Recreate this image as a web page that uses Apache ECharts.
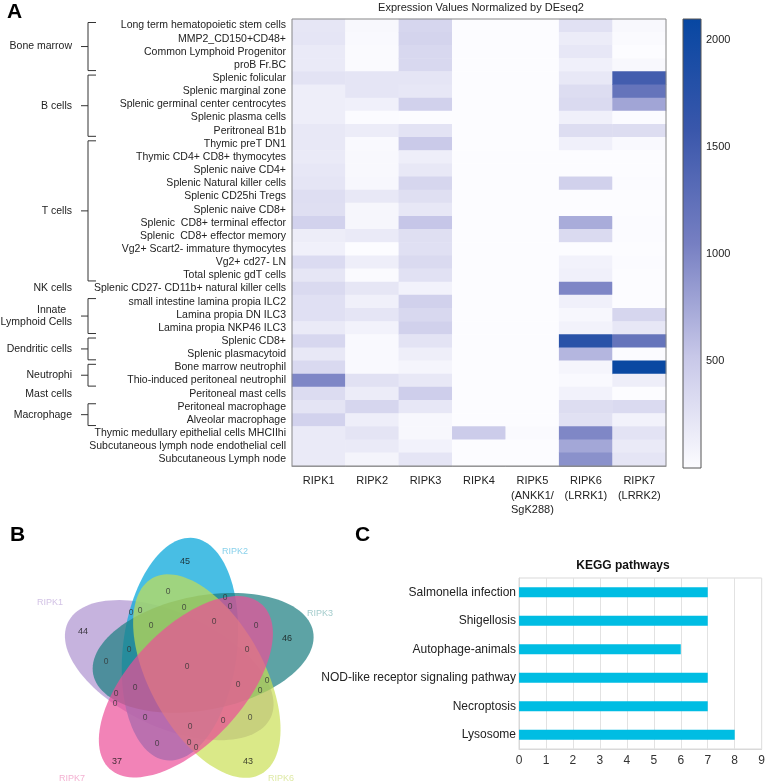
<!DOCTYPE html>
<html><head><meta charset="utf-8">
<script src="https://cdn.jsdelivr.net/npm/echarts@6/dist/echarts.min.js"></script>
<style>html,body{margin:0;padding:0;background:#fff}#c{width:768px;height:784px}</style>
</head><body><div id="c"></div>
<script>
// ---------- DATA ----------
const cellTypes = [
  'Long term hematopoietic stem cells','MMP2_CD150+CD48+','Common Lymphoid Progenitor','proB Fr.BC',
  'Splenic folicular','Splenic marginal zone','Splenic germinal center centrocytes','Splenic plasma cells','Peritroneal B1b',
  'Thymic preT DN1','Thymic CD4+ CD8+ thymocytes','Splenic naive CD4+','Splenic Natural killer cells','Splenic CD25hi Tregs',
  'Splenic naive CD8+','Splenic  CD8+ terminal effector','Splenic  CD8+ effector memory','Vg2+ Scart2- immature thymocytes',
  'Vg2+ cd27- LN','Total splenic gdT cells','Splenic CD27- CD11b+ natural killer cells','small intestine lamina propia ILC2',
  'Lamina propia DN ILC3','Lamina propia NKP46 ILC3','Splenic CD8+','Splenic plasmacytoid','Bone marrow neutrophil',
  'Thio-induced peritoneal neutrophil','Peritoneal mast cells','Peritoneal macrophage','Alveolar macrophage',
  'Thymic medullary epithelial cells MHCIIhi','Subcutaneous lymph node endothelial cell','Subcutaneous Lymph node'
];
const genes = ['RIPK1','RIPK2','RIPK3','RIPK4','RIPK5\n(ANKK1/\nSgK288)','RIPK6\n(LRRK1)','RIPK7\n(LRRK2)'];
const ripk1 = [220,230,180,180,250,140,140,140,200,200,180,210,230,300,290,420,150,120,330,220,340,280,280,180,370,200,350,1000,320,240,420,180,180,180];
const ripk2 = [40,30,20,20,230,230,120,10,160,30,40,40,50,200,60,60,180,0,140,20,220,120,230,100,30,30,30,270,160,380,140,240,180,80];
const ripk3 = [380,400,360,360,230,210,430,0,250,500,140,200,380,290,210,530,290,280,340,270,100,430,360,430,250,140,70,200,460,210,50,50,100,230];
const ripk4 = [0,0,0,0,0,0,0,0,0,0,0,0,0,0,0,0,0,0,0,0,0,0,0,0,0,0,0,0,0,0,0,480,0,0];
const ripk5 = [0,0,0,0,0,0,0,0,0,0,0,0,0,0,0,0,0,0,0,0,0,0,0,0,0,0,0,0,0,0,0,20,0,0];
const ripk6 = [270,160,210,120,200,310,340,120,310,120,0,0,430,0,0,720,340,0,100,120,1000,120,50,100,1750,650,70,30,100,310,270,990,760,920];
const ripk7 = [40,20,0,40,1500,1200,770,10,310,30,0,0,10,0,0,10,10,0,10,0,0,0,380,210,1200,10,2080,140,0,340,100,250,180,230];
const colorbarTicks = [500,1000,1500,2000];
const cellGroups = [
  {name:'Bone marrow', start:0, end:3, bracket:true},
  {name:'B cells', start:4, end:8, bracket:true},
  {name:'T cells', start:9, end:19, bracket:true},
  {name:'NK cells', start:20, end:20, bracket:false},
  {name:'Innate  \nLymphoid Cells', start:21, end:23, bracket:true},
  {name:'Dendritic cells', start:24, end:25, bracket:true},
  {name:'Neutrophi', start:26, end:27, bracket:true},
  {name:'Mast cells', start:28, end:28, bracket:false},
  {name:'Macrophage', start:29, end:30, bracket:true}
];
const vennSets = ['RIPK1','RIPK2','RIPK3','RIPK6','RIPK7'];
const vennUnique = [44,45,46,43,37];
const vennShared = [0,0,0,0,0,0,0,0,0,0,0,0,0,0,0,0,0,0,0,0,0,0,0,0,0,0];
const keggPathways = ['Salmonella infection','Shigellosis','Autophage-animals','NOD-like receptor signaling pathway','Necroptosis','Lysosome'];
const keggCounts = [7,7,6,7,7,8];

// ---------- LAYOUT / STYLE ----------
const FONT = 'Liberation Sans, Arial, sans-serif';
const cmapStops = ['#fcfcff','#c7c7e8','#767fc2','#3a57ab','#0747a2'];
const cmapMax = 2100;
const vennColors = ['rgba(160,128,200,0.6)','rgba(20,172,220,0.78)','rgba(30,128,130,0.72)','rgba(200,222,80,0.68)','rgba(236,78,152,0.7)'];
const vennLabelColors = ['#c7b3df','#6cc6e6','#8cbfbf','#d6e38f','#f09cc6'];
const vennK = [3,4,0,1,2]; // rotation step of each set
const vennGeo = {cx:189, cy:667, d:20, phi0:-45, theta0:-11, a:112, b:57};
const vennSetLabelPos = [[50,603],[235,552],[320,614],[281,779],[72,779]];
const vennUniquePos = [[83,632],[185,562],[287,639],[248,762],[117,762]];
const vennSharedPos = [[168,592],[225,598],[230,607],[131,613],[140,611],[184,608],[151,626],[214,622],[256,626],[129,650],[247,650],
  [106,662],[187,667],[267,681],[238,685],[260,691],[135,688],[116,694],[115,704],[145,718],[223,721],[250,718],[190,727],[157,744],[189,743],[196,748]];

const expression = [ripk1, ripk2, ripk3, ripk4, ripk5, ripk6, ripk7];
const heatData = [];
expression.forEach((col, g) => col.forEach((v, r) => heatData.push([g, r, v])));

const vennShapes = vennK.map((k, i) => {
  const off = (vennGeo.phi0 + 72 * k) * Math.PI / 180;
  const rot = (vennGeo.theta0 + 72 * k) * Math.PI / 180;
  return {cx: vennGeo.cx + vennGeo.d * Math.cos(off), cy: vennGeo.cy + vennGeo.d * Math.sin(off),
          a: vennGeo.a, b: vennGeo.b, rot: rot, color: vennColors[i]};
});

const chart = echarts.init(document.getElementById('c'), null, {renderer: 'canvas'});

const txt = (t, x, y, font, fill, align, valign) => ({
  type: 'text', x: x, y: y, silent: true,
  style: {text: t, font: font, fill: fill, align: align, verticalAlign: valign, textAlign: align, textVerticalAlign: valign, lineHeight: 12}
});

const labelSeries = (positions, texts, size, colors) => ({
  type: 'scatter', xAxisIndex: 2, yAxisIndex: 2, z: 6, silent: true, symbolSize: 1,
  itemStyle: {color: 'rgba(0,0,0,0)'},
  data: positions.map((p, i) => ({value: p,
    label: {show: true, position: 'inside', formatter: String(texts[i]), fontSize: size,
            color: Array.isArray(colors) ? colors[i] : colors, fontFamily: FONT}}))
});

const option = {
  animation: false,
  backgroundColor: '#fff',
  textStyle: {fontFamily: FONT},
  title: [
    {text: 'A', left: 7, top: 2, padding: 0, textStyle: {fontSize: 21, fontWeight: 'bold', color: '#000', fontFamily: FONT}},
    {text: 'Expression Values Normalized by DEseq2', left: 481, top: 2, padding: 0, textAlign: 'center',
     textStyle: {fontSize: 11, fontWeight: 'normal', color: '#222', fontFamily: FONT}},
    {text: 'B', left: 10, top: 525, padding: 0, textStyle: {fontSize: 21, fontWeight: 'bold', color: '#000', fontFamily: FONT}},
    {text: 'C', left: 355, top: 525, padding: 0, textStyle: {fontSize: 21, fontWeight: 'bold', color: '#000', fontFamily: FONT}},
    {text: 'KEGG pathways', left: 623, top: 560, padding: 0, textAlign: 'center',
     textStyle: {fontSize: 12, fontWeight: 'bold', color: '#111', fontFamily: FONT}}
  ],
  grid: [
    {left: 292, top: 19, width: 374, height: 447},
    {left: 683, top: 19, width: 18, height: 449},
    {left: 0, top: 520, width: 340, height: 264},
    {left: 519, top: 578, width: 244, height: 171, show: true, borderColor: '#d9d9d9', borderWidth: 1}
  ],
  xAxis: [
    {gridIndex: 0, type: 'category', data: genes,
     axisLine: {lineStyle: {color: '#888'}},
     axisTick: {alignWithLabel: true, length: 5, lineStyle: {color: '#777'}},
     axisLabel: {fontSize: 11, color: '#222', margin: 8, lineHeight: 14.5, fontFamily: FONT, interval: 0},
     splitLine: {show: false}},
    {gridIndex: 1, type: 'value', min: 0, max: 1, show: false},
    {gridIndex: 2, type: 'value', min: 0, max: 340, show: false},
    {gridIndex: 3, type: 'value', min: 0, max: 9, interval: 1,
     axisLine: {show: true, lineStyle: {color: '#d9d9d9'}}, axisTick: {show: false},
     axisLabel: {fontSize: 12, color: '#333', margin: 6, fontFamily: FONT},
     splitLine: {show: true, lineStyle: {color: '#e2e2e2'}}}
  ],
  yAxis: [
    {gridIndex: 0, type: 'category', data: cellTypes, inverse: true,
     axisLine: {show: false}, axisTick: {show: false},
     axisLabel: {fontSize: 10.5, color: '#222', margin: 6, interval: 0, fontFamily: FONT}},
    {gridIndex: 1, type: 'value', min: 0, max: cmapMax, interval: 500, position: 'right',
     axisLine: {show: false}, splitLine: {show: false},
     axisTick: {show: true, length: 3, customValues: colorbarTicks, lineStyle: {color: '#444'}},
     axisLabel: {show: true, customValues: colorbarTicks, formatter: v => String(v),
                 fontSize: 11, color: '#222', margin: 5, fontFamily: FONT}},
    {gridIndex: 2, type: 'value', min: 520, max: 784, inverse: true, show: false},
    {gridIndex: 3, type: 'category', data: keggPathways, inverse: true,
     axisLine: {show: true, lineStyle: {color: '#d9d9d9'}}, axisTick: {show: false},
     axisLabel: {fontSize: 12, color: '#222', margin: 3, fontFamily: FONT, interval: 0}}
  ],
  visualMap: {type: 'continuous', show: false, min: 0, max: cmapMax, seriesIndex: 0, dimension: 2,
              inRange: {color: cmapStops}},
  series: [
    {type: 'heatmap', xAxisIndex: 0, yAxisIndex: 0, data: heatData, progressive: 0,
     itemStyle: {borderWidth: 0}, emphasis: {disabled: true}},
    // heatmap frame
    {type: 'custom', xAxisIndex: 0, yAxisIndex: 0, data: [[0, 0]], z: 5, silent: true, clip: false,
     renderItem: (params, api) => {
       const c = params.coordSys;
       return {type: 'rect', shape: {x: c.x, y: c.y, width: c.width, height: c.height},
               style: {fill: 'none', stroke: '#888', lineWidth: 1}};
     }},
    // group brackets and labels
    {type: 'custom', xAxisIndex: 0, yAxisIndex: 0, z: 5, silent: true, clip: false,
     data: cellGroups.map(g => [0, g.start, g.end]),
     renderItem: (params, api) => {
       const g = cellGroups[params.dataIndex];
       const band = api.size([0, 1])[1];
       const yTop = api.coord([0, api.value(1)])[1];
       const yBot = api.coord([0, api.value(2)])[1];
       const children = [];
       let ym;
       if (g.bracket) {
         const y1 = yTop - band / 2 + 3.5, y2 = yBot + band / 2 - 1;
         ym = (y1 + y2) / 2;
         const ls = {stroke: '#333', lineWidth: 1};
         children.push({type: 'line', shape: {x1: 88, y1: y1, x2: 88, y2: y2}, style: ls});
         children.push({type: 'line', shape: {x1: 88, y1: y1, x2: 96, y2: y1}, style: ls});
         children.push({type: 'line', shape: {x1: 88, y1: y2, x2: 96, y2: y2}, style: ls});
         children.push({type: 'line', shape: {x1: 81, y1: ym, x2: 88, y2: ym}, style: ls});
       } else {
         ym = (yTop + yBot) / 2;
       }
       children.push(txt(g.name, 72, ym, '10.5px ' + FONT, '#222', 'right', 'middle'));
       return {type: 'group', children: children};
     }},
    // colorbar
    {type: 'custom', xAxisIndex: 1, yAxisIndex: 1, data: [[0, 0]], silent: true, clip: false,
     renderItem: (params, api) => {
       const c = params.coordSys;
       return {type: 'rect', shape: {x: c.x, y: c.y, width: c.width, height: c.height},
               style: {fill: {type: 'linear', x: 0, y: 1, x2: 0, y2: 0,
                              colorStops: cmapStops.map((col, i) => ({offset: i / (cmapStops.length - 1), color: col}))},
                       stroke: '#555', lineWidth: 1}};
     }},
    // venn ellipses
    {type: 'custom', xAxisIndex: 2, yAxisIndex: 2, silent: true, clip: false, z: 2,
     data: vennShapes.map(s => [s.cx, s.cy]),
     renderItem: (params, api) => {
       const s = vennShapes[params.dataIndex];
       const pts = [];
       for (let t = 0; t < 120; t++) {
         const th = t / 120 * 2 * Math.PI;
         const ex = s.a * Math.cos(th), ey = s.b * Math.sin(th);
         pts.push(api.coord([s.cx + ex * Math.cos(s.rot) - ey * Math.sin(s.rot),
                             s.cy + ex * Math.sin(s.rot) + ey * Math.cos(s.rot)]));
       }
       return {type: 'polygon', shape: {points: pts}, style: {fill: s.color}};
     }},
    labelSeries(vennSetLabelPos, vennSets, 9, vennLabelColors),
    labelSeries(vennUniquePos, vennUnique, 9, '#111'),
    labelSeries(vennSharedPos, vennShared, 8.5, '#333'),
    // KEGG bars
    {type: 'bar', xAxisIndex: 3, yAxisIndex: 3, data: keggCounts, barWidth: 10,
     itemStyle: {color: '#00bde3'}, emphasis: {disabled: true}}
  ]
};
chart.setOption(option);
</script>
</body></html>
